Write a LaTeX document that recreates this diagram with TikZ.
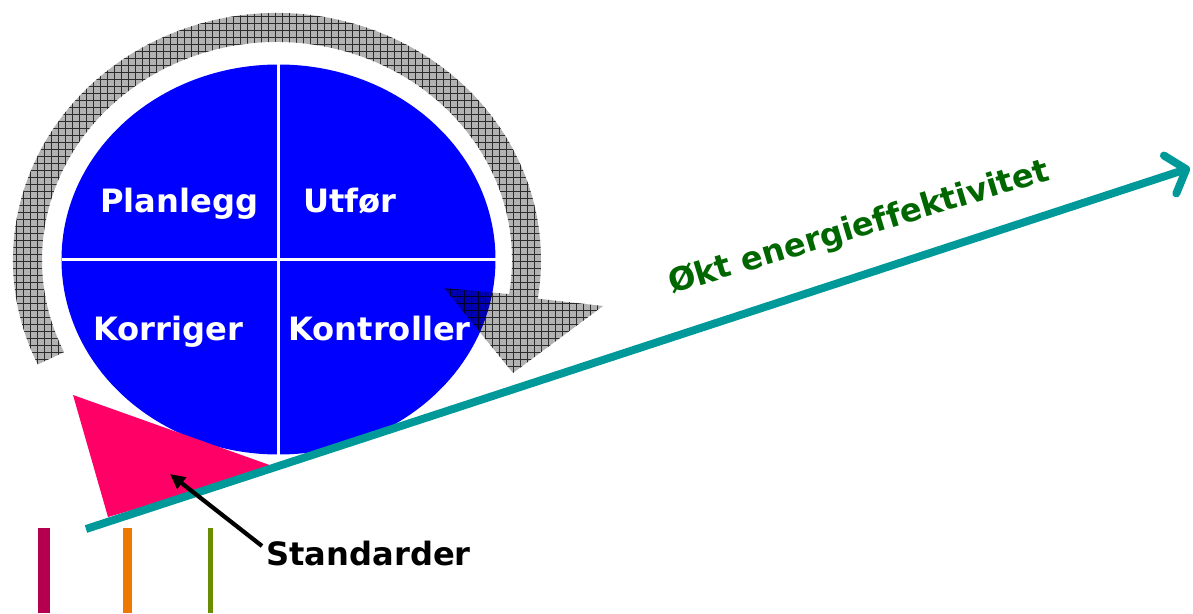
\documentclass[tikz,border=0pt]{standalone}
\usepackage{fontspec}
\setmainfont{DejaVu Sans}[Ligatures=NoCommon]
\usetikzlibrary{arrows.meta,patterns.meta}
\definecolor{pdcablue}{HTML}{0000FF}
\definecolor{stdpink}{HTML}{FF0066}
\definecolor{trendteal}{HTML}{009999}
\definecolor{trendgreen}{HTML}{006600}
\definecolor{barmag}{HTML}{B5004F}
\definecolor{barorange}{HTML}{EE7800}
\definecolor{barolive}{HTML}{6A8C00}
\tikzdeclarepattern{
  name=cyclegrid,
  type=uncolored,
  bottom left={(0pt,0pt)},
  top right={(4.2pt,4.2pt)},
  tile size={(4.2pt,4.2pt)},
  code={
    \pgfsetlinewidth{0.45pt}
    \pgfpathmoveto{\pgfpoint{0pt}{2.1pt}}\pgfpathlineto{\pgfpoint{4.2pt}{2.1pt}}
    \pgfpathmoveto{\pgfpoint{2.1pt}{0pt}}\pgfpathlineto{\pgfpoint{2.1pt}{4.2pt}}
    \pgfusepath{stroke}
  }
}
\tikzset{
  quad/.style={anchor=base west, inner sep=0pt, text=white,
    font=\fontsize{18.3pt}{22pt}\selectfont\bfseries},
  lbl/.style={anchor=base west, inner sep=0pt,
    font=\fontsize{18.3pt}{22pt}\selectfont\bfseries},
}
\begin{document}
\begin{tikzpicture}[x=0.02cm,y=0.02cm]
\useasboundingbox (0,0) rectangle (1193,613);
% PDCA ellipse
\fill[pdcablue] (278.5,353.5) ellipse [x radius=217, y radius=195];
\draw[white, line width=2pt] (61.5,353.5) -- (495.5,353.5);
\draw[white, line width=2pt] (278.5,158.5) -- (278.5,548.5);
% cycle arrow
\begin{scope}[blend mode=multiply]
\fill[black!30] (277,353) ++(205:264 and 247)
  arc[start angle=205, end angle=-9, x radius=264, y radius=247]
  -- (603,307) -- (513,240) -- (444,325)
  -- (509.1,318.9)
  arc[start angle=-9, end angle=205, x radius=235, y radius=218] -- cycle;
\path[pattern=cyclegrid, pattern color=black!75] (277,353) ++(205:264 and 247)
  arc[start angle=205, end angle=-9, x radius=264, y radius=247]
  -- (603,307) -- (513,240) -- (444,325)
  -- (509.1,318.9)
  arc[start angle=-9, end angle=205, x radius=235, y radius=218] -- cycle;
\end{scope}
% quadrant labels
\node[quad] (plan) at (100,401) {Planlegg};
\node[quad] (utf) at (303,401) {Utfør};
\node[quad] (korr) at (93,273) {Korriger};
\node[quad] (kont) at (288,273) {Kontroller};
% standards wedge
\fill[stdpink] (73,218) -- (108,96) -- (278,145) -- cycle;
\coordinate (wedge) at (170,139);
% trend line
\coordinate (tstart) at (86,84);
\coordinate (tend) at (1190,445);
\draw[trendteal, line width=4.5pt, -{Straight Barb[length=0.34cm, width=0.8cm, round]}] (tstart) -- (tend);
\node[lbl, text=trendgreen, rotate=16.8] (okt) at (672,319) {Økt energieffektivitet};
% standards label
\node[lbl] (std) at (266,48) {Standarder};
\coordinate (stdarrow) at (262,67);
\draw[black, line width=2.4pt, -{Triangle[length=0.3cm, width=0.28cm]}] (stdarrow) -- (wedge);
% bars
\fill[barmag] (38,0) rectangle (50,85);
\fill[barorange] (123,0) rectangle (132,85);
\fill[barolive] (208,0) rectangle (213,85);
\end{tikzpicture}
\end{document}
